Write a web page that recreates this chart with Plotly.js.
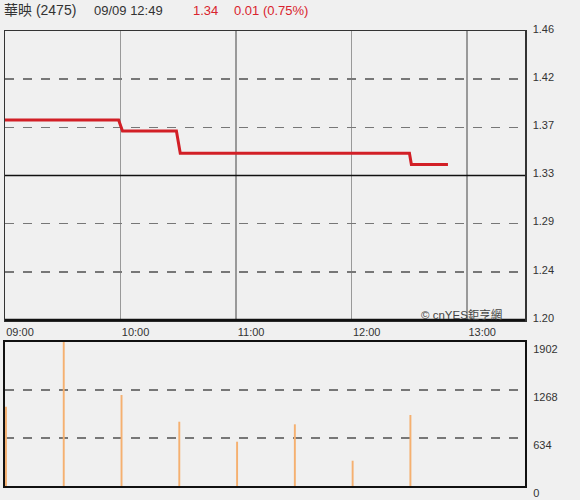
<!DOCTYPE html>
<html>
<head>
<meta charset="utf-8">
<script src="https://cdn.plot.ly/plotly-3.0.1.min.js"></script>
<style>html,body{margin:0;padding:0;background:#f0f0f0;}#chart{width:580px;height:500px;}</style>
</head>
<body>
<div id="chart"></div>
<script>
// ---- data ----
const day = "2024-09-09 ";
const priceTimes = ["09:00", "09:59", "10:01", "10:29", "10:31", "12:30", "12:31", "12:50"];
const priceValues = [1.38, 1.38, 1.37, 1.37, 1.35, 1.35, 1.34, 1.34];
const volumeTimes = ["09:00", "09:30", "10:00", "10:30", "11:00", "11:30", "12:00", "12:30"];
const volumeValues = [1047, 1902, 1202, 849, 585, 815, 334, 938];
const priceTickVals = [1.20, 1.2433, 1.2867, 1.33, 1.3733, 1.4167, 1.46];
const priceTickLabels = ["1.20", "1.24", "1.29", "1.33", "1.37", "1.42", "1.46"];
const prevClose = 1.33;
const volumeTickVals = [0, 634, 1268, 1902];
const volumeTickLabels = ["0", "634", "1268", "1902"];
const timeTickVals = ["09:00", "10:00", "11:00", "12:00", "13:00"];
const timeRange = ["09:00", "13:30"];
const headerName = "華映 (2475)";
const headerTime = "09/09 12:49";
const headerPrice = "1.34";
const headerChange = "0.01 (0.75%)";

// ---- layout helpers (pixel -> paper) ----
const W = 580, H = 500;
const px = x => x / W;
const py = y => (H - y) / H;
const font = "Arial, 'Liberation Sans', 'Noto Sans CJK TC', sans-serif";

const traces = [
  {
    type: "scatter", mode: "lines",
    x: priceTimes.map(t => day + t), y: priceValues,
    xaxis: "x", yaxis: "y",
    line: {color: "#d21f26", width: 3},
    hoverinfo: "skip"
  },
  {
    type: "bar",
    x: volumeTimes.map(t => day + t), y: volumeValues,
    xaxis: "x2", yaxis: "y2",
    width: 60000, offset: 0,
    marker: {color: "#f5b070", line: {width: 0}},
    hoverinfo: "skip"
  }
];

const xDomain = [px(5), px(525)];
const layout = {
  width: W, height: H,
  margin: {l: 0, r: 0, t: 0, b: 0},
  paper_bgcolor: "#f0f0f0", plot_bgcolor: "#f0f0f0",
  showlegend: false,
  font: {family: font, color: "#333", size: 11},
  xaxis: {
    type: "date", domain: xDomain, anchor: "y",
    range: timeRange.map(t => day + t),
    tickvals: timeTickVals.map(t => day + t),
    ticktext: timeTickVals,
    ticks: "", ticklabelshift: 15, ticklabelstandoff: 1,
    showgrid: true, gridcolor: "#999", gridwidth: 1.5,
    showline: true, mirror: true, linecolor: "#333", linewidth: 1.5,
    zeroline: false, fixedrange: true
  },
  yaxis: {
    domain: [py(320), py(31)], anchor: "x", side: "right",
    range: [1.20, 1.46],
    tickvals: priceTickVals, ticktext: priceTickLabels,
    ticks: "", ticklabelstandoff: 4, ticklabelshift: -2,
    showgrid: true, gridcolor: "#777", gridwidth: 1.5, griddash: "dash",
    showline: true, mirror: true, linecolor: "#333", linewidth: 1.5,
    zeroline: false, fixedrange: true
  },
  xaxis2: {
    type: "date", domain: xDomain, anchor: "y2",
    range: timeRange.map(t => day + t),
    showticklabels: false, ticks: "", showgrid: false,
    showline: true, mirror: true, linecolor: "#111", linewidth: 2,
    zeroline: false, fixedrange: true
  },
  yaxis2: {
    domain: [py(486), py(342)], anchor: "x2", side: "right",
    range: [0, 1902],
    tickvals: volumeTickVals, ticktext: volumeTickLabels,
    ticks: "", ticklabelstandoff: 4, ticklabelshift: 7,
    showgrid: true, gridcolor: "#777", gridwidth: 1.5, griddash: "dash",
    showline: true, mirror: true, linecolor: "#111", linewidth: 2,
    zeroline: false, fixedrange: true
  },
  shapes: [
    {type: "line", xref: "x domain", yref: "y", x0: 0, x1: 1, y0: prevClose, y1: prevClose,
     line: {color: "#111", width: 1.5}},
    {type: "line", xref: "x domain", yref: "y domain", x0: 0, x1: 1, y0: 0, y1: 0,
     line: {color: "#111", width: 2.5}}
  ],
  annotations: [
    {text: headerName, x: px(2), y: py(10), xref: "paper", yref: "paper", xanchor: "left", yanchor: "middle",
     showarrow: false, font: {size: 14, color: "#333", family: font}},
    {text: headerTime, x: px(92), y: py(10), xref: "paper", yref: "paper", xanchor: "left", yanchor: "middle",
     showarrow: false, font: {size: 13, color: "#333", family: font}},
    {text: headerPrice, x: px(191), y: py(10), xref: "paper", yref: "paper", xanchor: "left", yanchor: "middle",
     showarrow: false, font: {size: 13, color: "#d9232d", family: font}},
    {text: headerChange, x: px(232), y: py(10), xref: "paper", yref: "paper", xanchor: "left", yanchor: "middle",
     showarrow: false, font: {size: 13, color: "#d9232d", family: font}},
    {text: "© cnYES鉅亨網", x: px(504), y: py(314), xref: "paper", yref: "paper", xanchor: "right", yanchor: "middle",
     showarrow: false, font: {size: 11.5, color: "#444", family: font}}
  ]
};

Plotly.newPlot("chart", traces, layout, {staticPlot: true, displayModeBar: false});
</script>
</body>
</html>
